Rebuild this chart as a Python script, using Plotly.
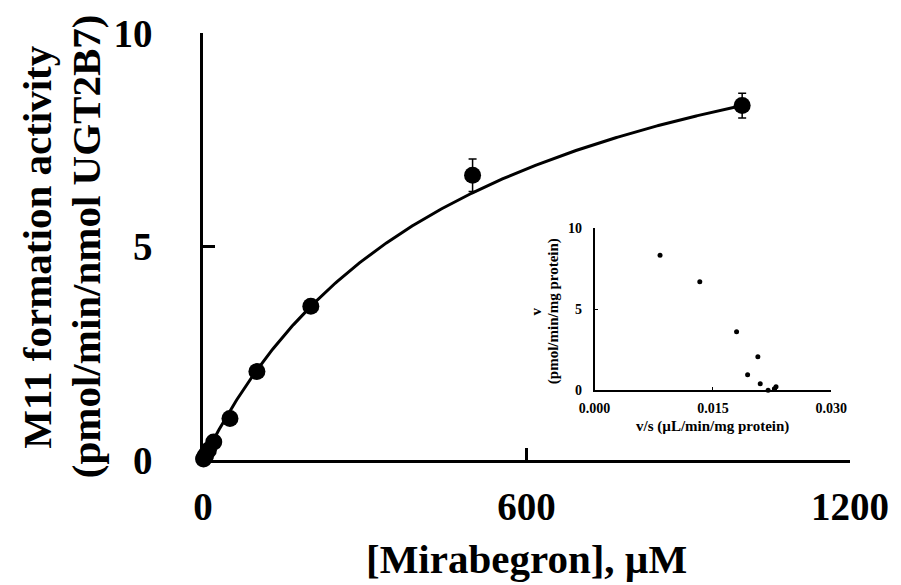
import numpy as np
import plotly.graph_objects as go

# Substrate concentrations (µM) and mean M11 formation activity with SD
conc_uM = [1, 2.5, 5, 10, 20, 50, 100, 200, 500, 1000]
activity = [0.022, 0.057, 0.114, 0.23, 0.42, 0.97, 2.07, 3.60, 6.67, 8.30]
activity_sd = [0.003, 0.006, 0.01, 0.02, 0.03, 0.05, 0.08, 0.10, 0.38, 0.29]

# Michaelis-Menten fit parameters
VMAX = 12.33
KM = 485.0

main_xticks = [0, 600, 1200]
main_yticks = [0, 5, 10]
inset_xticks = [0.0, 0.015, 0.030]
inset_xticklabels = ["0.000", "0.015", "0.030"]
inset_yticks = [0, 5, 10]

FONT = "Liberation Serif, Times New Roman, serif"

# Fitted curve
s_fit = np.linspace(0, max(conc_uM), 400)
v_fit = VMAX * s_fit / (KM + s_fit)

# Eadie-Hofstee transform for the inset
v_over_s = [v / s for v, s in zip(activity, conc_uM)]

fig = go.Figure()

fig.add_trace(go.Scatter(
    x=s_fit, y=v_fit, mode="lines",
    line=dict(color="black", width=3),
    cliponaxis=False, hoverinfo="skip",
))

fig.add_trace(go.Scatter(
    x=conc_uM, y=activity, mode="markers",
    marker=dict(color="black", size=17),
    error_y=dict(type="data", array=activity_sd, visible=True,
                 color="black", thickness=1.5, width=4),
    cliponaxis=False,
))

fig.add_trace(go.Scatter(
    x=v_over_s, y=activity, mode="markers",
    marker=dict(color="black", size=5),
    xaxis="x2", yaxis="y2", cliponaxis=False,
))

tick_font_main = dict(family=FONT, size=39, color="black", weight="bold")
tick_font_inset = dict(family=FONT, size=14, color="black", weight="bold")

fig.update_layout(
    width=901, height=585,
    margin=dict(l=203, r=42, t=30, b=125),
    paper_bgcolor="white", plot_bgcolor="white",
    showlegend=False,
    font=dict(family=FONT, color="black"),
    xaxis=dict(
        range=[0, 1200], tickvals=main_xticks,
        ticktext=[str(t) for t in main_xticks],
        showline=True, linecolor="black", linewidth=2.5,
        ticks="inside", ticklen=12, tickwidth=2.5, tickcolor="black",
        showgrid=False, zeroline=False, tickfont=tick_font_main,
        ticklabelstandoff=10,
    ),
    yaxis=dict(
        range=[0, 10], tickvals=main_yticks,
        ticktext=[str(t) for t in main_yticks],
        showline=True, linecolor="black", linewidth=2.5,
        ticks="inside", ticklen=12, tickwidth=2.5, tickcolor="black",
        showgrid=False, zeroline=False, tickfont=tick_font_main,
        ticklabelstandoff=40,
    ),
    xaxis2=dict(
        domain=[0.6052, 0.9710], anchor="y2",
        range=[0, 0.030], tickvals=inset_xticks,
        ticktext=inset_xticklabels,
        showline=True, linecolor="black", linewidth=1.5,
        ticks="inside", ticklen=4, tickwidth=1, tickcolor="black",
        showgrid=False, zeroline=False, tickfont=tick_font_inset,
        ticklabelstandoff=4,
    ),
    yaxis2=dict(
        domain=[0.1628, 0.5442], anchor="x2",
        range=[0, 10], tickvals=inset_yticks,
        ticktext=[str(t) for t in inset_yticks],
        showline=True, linecolor="black", linewidth=1.5,
        ticks="inside", ticklen=4, tickwidth=1, tickcolor="black",
        showgrid=False, zeroline=False, tickfont=tick_font_inset,
        ticklabelstandoff=8,
    ),
)

title_font = dict(family=FONT, size=41, color="black", weight="bold")
inset_title_font = dict(family=FONT, size=15, color="black", weight="bold")

annotations = [
    # main x title
    dict(text="[Mirabegron], µM", x=0.5, y=-0.2326,
         xref="paper", yref="paper", xanchor="center", yanchor="middle",
         showarrow=False, font=title_font),
    # main y title, two lines
    dict(text="M11 formation activity", x=(34 - 203) / 656, y=0.5,
         xref="paper", yref="paper", xanchor="center", yanchor="middle",
         textangle=-90, showarrow=False, font=title_font),
    dict(text="(pmol/min/nmol UGT2B7)", x=(84 - 203) / 656, y=0.5,
         xref="paper", yref="paper", xanchor="center", yanchor="middle",
         textangle=-90, showarrow=False, font=title_font),
    # inset x title
    dict(text="v/s (µL/min/mg protein)", x=(720 - 203) / 656,
         y=(460 - 426) / 430,
         xref="paper", yref="paper", xanchor="center", yanchor="middle",
         showarrow=False, font=inset_title_font),
    # inset y title, two lines
    dict(text="v", x=(541 - 203) / 656, y=(460 - 310) / 430,
         xref="paper", yref="paper", xanchor="center", yanchor="middle",
         textangle=-90, showarrow=False, font=inset_title_font),
    dict(text="(pmol/min/mg protein)", x=(558 - 203) / 656,
         y=(460 - 310) / 430,
         xref="paper", yref="paper", xanchor="center", yanchor="middle",
         textangle=-90, showarrow=False, font=inset_title_font),
]
fig.update_layout(annotations=annotations)

fig.write_html("out.html")
